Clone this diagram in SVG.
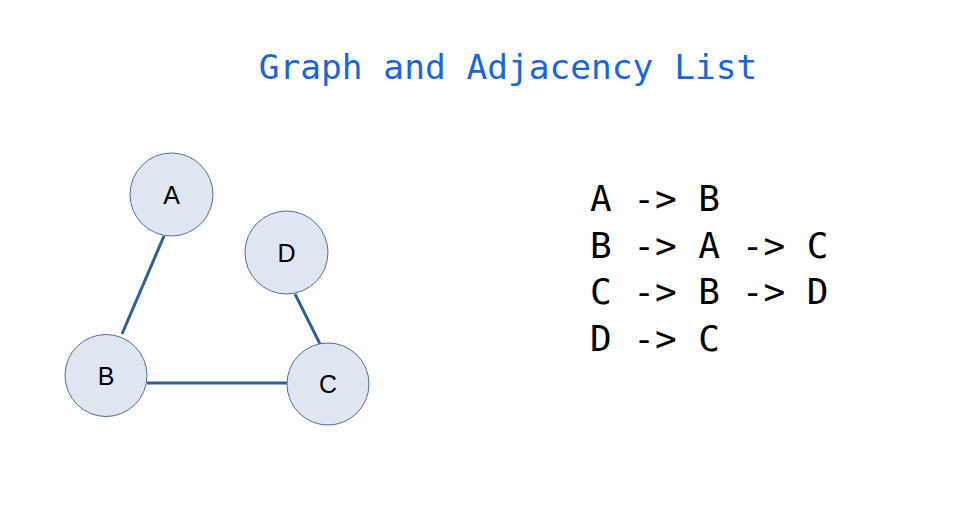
<svg xmlns="http://www.w3.org/2000/svg" width="967" height="521" viewBox="0 0 967 521">
<style>
.node circle{fill:#dfe6ef;stroke:#4a6fa5;stroke-width:1}
.node text{font-family:"Liberation Sans",Arial,sans-serif;font-size:25px;fill:#000;text-anchor:middle}
.edge{stroke:#2e5f96;stroke-width:3;fill:none}
.title{font-family:"DejaVu Sans Mono","Liberation Mono",monospace;font-size:34.5px;fill:#1a66d9;text-anchor:middle}
.list{font-family:"DejaVu Sans Mono","Liberation Mono",monospace;font-size:36px;fill:#000;white-space:pre}
</style>
<rect width="967" height="521" fill="#fff"/>
<text class="title" x="508" y="79">Graph and Adjacency List</text>
<g id="connectors">
<line class="edge" x1="164" y1="236" x2="122" y2="334"/>
<line class="edge" x1="295" y1="294" x2="320" y2="344"/>
<line class="edge" x1="147" y1="383" x2="288" y2="383"/>
</g>
<g id="node-A" class="node"><circle cx="171.5" cy="194.5" r="41.5"/><text x="171.5" y="204">A</text></g>
<g id="node-D" class="node"><circle cx="286.5" cy="252.5" r="41.5"/><text x="286.5" y="262">D</text></g>
<g id="node-B" class="node"><circle cx="106" cy="375.5" r="41"/><text x="106" y="385">B</text></g>
<g id="node-C" class="node"><circle cx="328" cy="384" r="41"/><text x="328" y="393">C</text></g>
<g id="adjacency-list">
<text class="list" x="590" y="211">A -&gt; B</text>
<text class="list" x="590" y="257.5">B -&gt; A -&gt; C</text>
<text class="list" x="590" y="304">C -&gt; B -&gt; D</text>
<text class="list" x="590" y="350.5">D -&gt; C</text>
</g>
</svg>
